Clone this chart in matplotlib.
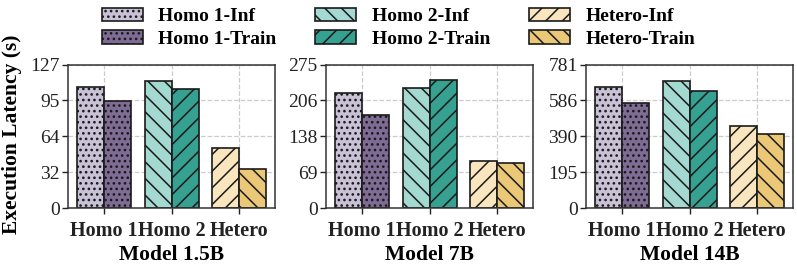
import numpy as np
import matplotlib
matplotlib.use('Agg')
import matplotlib.pyplot as plt

plt.rcParams['font.family'] = ['Liberation Serif', 'DejaVu Serif']
plt.rcParams['hatch.linewidth'] = 1.1

# data (seconds)
groups   = ['Homo 1', 'Homo 2', 'Hetero']
models   = ['Model 1.5B', 'Model 7B', 'Model 14B']
inf_vals = [
    [106.9, 112.4, 53.5],
    [219.6, 231.0, 90.9],
    [658.0, 694.0, 444.7],
]
train_vals = [
    [95.0, 105.6, 35.0],
    [178.8, 245.0, 87.1],
    [572.7, 637.8, 401.0],
]
y_max = [127, 275, 781]

inf_colors   = ['#c9c2d6', '#a3d9d1', '#f9e5be']
train_colors = ['#7e6c94', '#37a191', '#ebc878']
inf_hatch    = ['...', '\\\\', '//']
train_hatch  = ['...', '//', '\\\\']
inf_names    = ['Homo 1-Inf', 'Homo 2-Inf', 'Hetero-Inf']
train_names  = ['Homo 1-Train', 'Homo 2-Train', 'Hetero-Train']

W, H = 797, 280
fig = plt.figure(figsize=(W / 100, H / 100), dpi=100)

lefts  = [68, 326, 586]
ax_w   = 207
ax_top = 64.5
ax_bot = 208.3

x  = np.arange(len(groups))
bw = 0.4
handles = {}

for m in range(3):
    ax = fig.add_axes([lefts[m] / W, 1 - ax_bot / H,
                       ax_w / W, (ax_bot - ax_top) / H])
    ax.set_axisbelow(True)
    for g in range(3):
        b1 = ax.bar(x[g] - bw / 2, inf_vals[m][g], bw,
                    color=inf_colors[g], hatch=inf_hatch[g],
                    edgecolor='#1a1a1a', linewidth=1.2)
        b2 = ax.bar(x[g] + bw / 2, train_vals[m][g], bw,
                    color=train_colors[g], hatch=train_hatch[g],
                    edgecolor='#1a1a1a', linewidth=1.2)
        handles[inf_names[g]] = b1
        handles[train_names[g]] = b2

    ax.set_xlim(-0.535, 2.53)
    ax.set_ylim(0, y_max[m])
    ticks = np.linspace(0, y_max[m], 5)
    ax.set_yticks(ticks)
    ax.set_yticklabels([f'{round(t)}' for t in ticks], fontsize=14)
    ax.set_xticks(x)
    ax.set_xticklabels(groups, fontsize=14.5, fontweight='bold')
    ax.set_xlabel(models[m], fontsize=15.5, fontweight='bold', labelpad=3)
    ax.grid(True, linestyle='--', color='#cccccc', linewidth=0.9)
    ax.tick_params(length=4, width=1, colors='#222222')
    ax.tick_params(axis='x', pad=5)
    ax.tick_params(axis='y', pad=2)
    for s in ax.spines.values():
        s.set_edgecolor('#333333')
        s.set_linewidth(1.1)

fig.text(12 / W, 1 - 134 / H, 'Execution Latency (s)', rotation=90,
         ha='center', va='center', fontsize=15.5, fontweight='bold')

order = ['Homo 1-Inf', 'Homo 1-Train', 'Homo 2-Inf',
         'Homo 2-Train', 'Hetero-Inf', 'Hetero-Train']
leg = fig.legend([handles[k] for k in order], order, ncol=3,
                 loc='upper center', bbox_to_anchor=(0.5, 1.035),
                 frameon=False, prop={'weight': 'bold', 'size': 14},
                 handlelength=2.1, handleheight=0.7, handletextpad=0.8,
                 columnspacing=2.0, labelspacing=0.25)

fig.savefig('out.png', dpi=100)
